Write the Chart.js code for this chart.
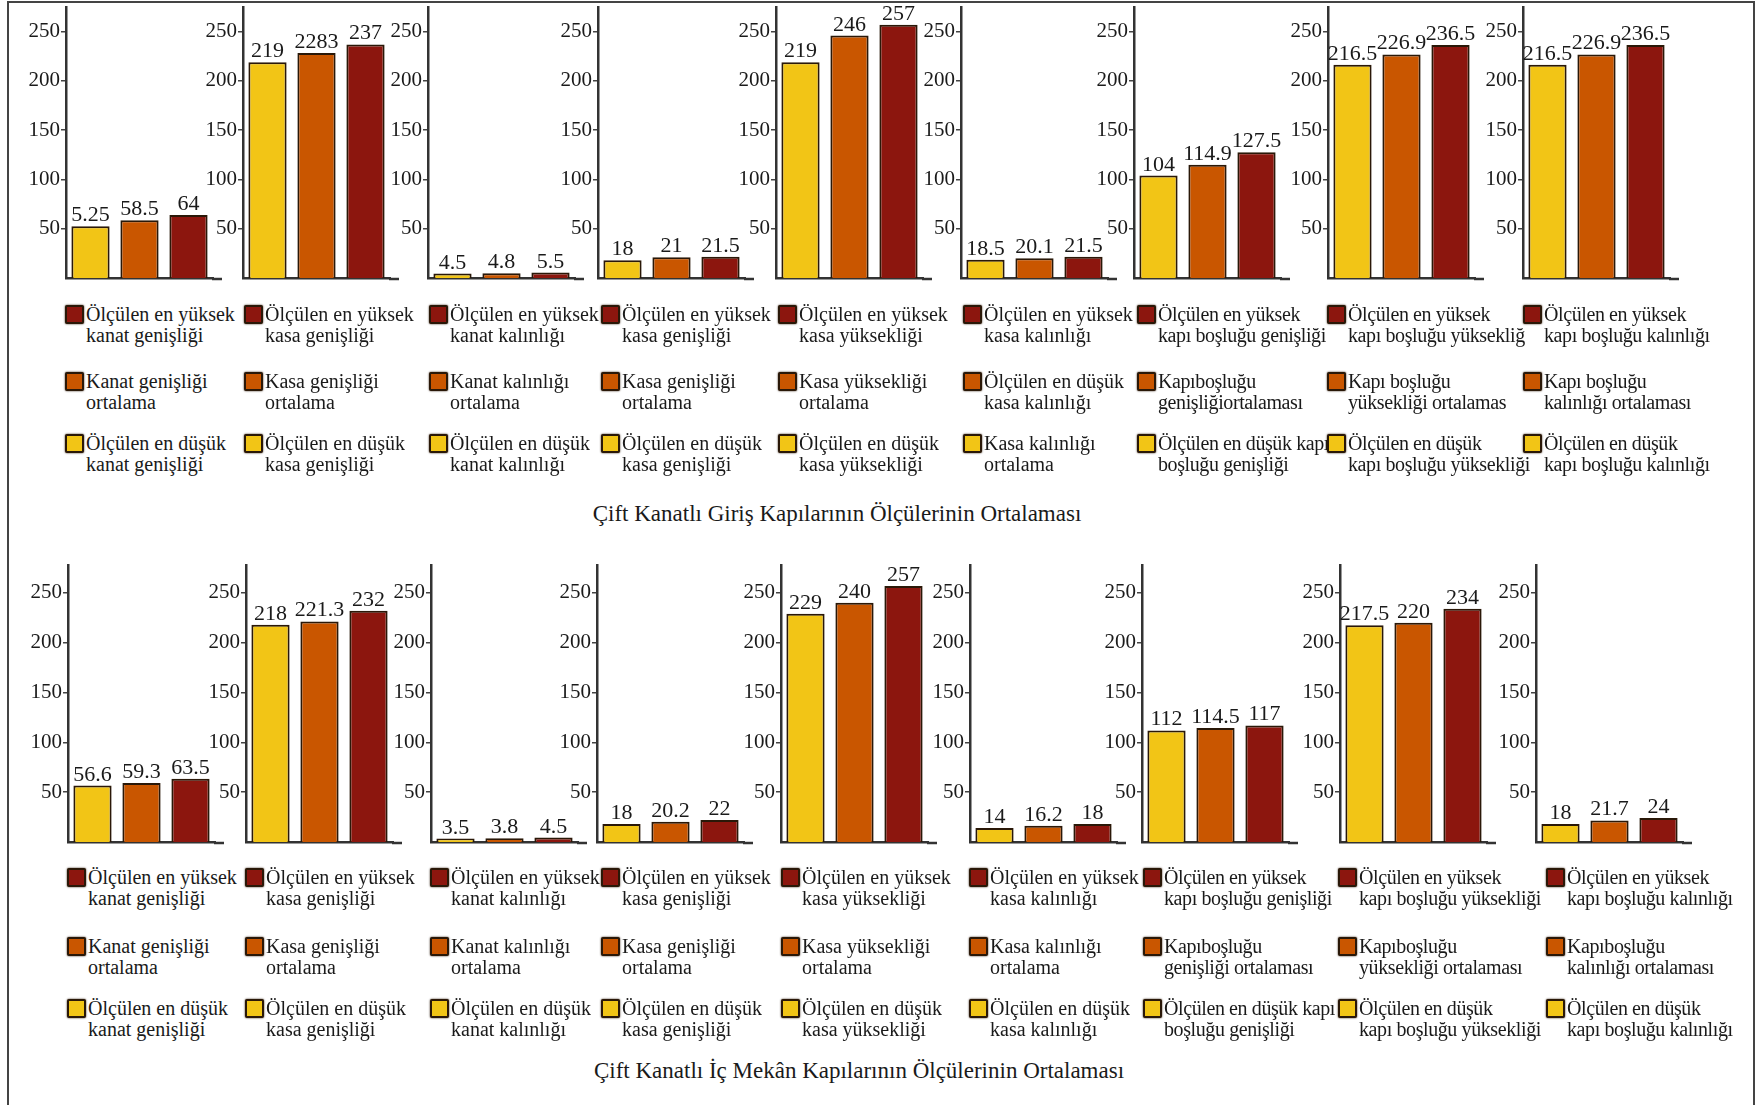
<!DOCTYPE html>
<html>
<head>
<meta charset="utf-8">
<script src="https://cdn.jsdelivr.net/npm/chart.js@4.4.1/dist/chart.umd.min.js"></script>
<style>
  html, body { margin: 0; padding: 0; background: #fff; }
  body { width: 1762px; height: 1105px; position: relative; overflow: hidden;
         font-family: "Liberation Serif", "DejaVu Serif", serif; color: #1a1a1a; }
  .frame { position: absolute; left: 7px; top: 1px; width: 1748px; height: 1115px;
           border: 2px solid #444; box-sizing: border-box; }
  canvas { position: absolute; }
  .leg { position: absolute; font-size: 20px; line-height: 21px; white-space: nowrap; }
  .leg.tight { letter-spacing: -0.4px; }
  .sw { position: absolute; width: 15px; height: 15px; border: 2px solid #2a1808;
        border-radius: 2px; box-shadow: 0 0 2px #2a1808; }
  .cap { position: absolute; font-size: 23px; white-space: nowrap; transform: translate(-50%, -50%); }
</style>
</head>
<body>
<div class="frame"></div>
<script>
/* ---------- data ---------- */
const seriesNames = ['Ölçülen en düşük', 'Ortalama', 'Ölçülen en yüksek'];
const yTicks = [50, 100, 150, 200, 250];

// Çift kanatlı giriş kapıları (düşük, ortalama, yüksek)
const girisValues = [
  [52.5, 58.5, 64],
  [219, 228.3, 237],
  [4.5, 4.8, 5.5],
  [18, 21, 21.5],
  [219, 246, 257],
  [18.5, 20.1, 21.5],
  [104, 114.9, 127.5],
  [216.5, 226.9, 236.5],
  [216.5, 226.9, 236.5]
];
const girisLabels = [
  ['5.25', '58.5', '64'],
  ['219', '2283', '237'],
  ['4.5', '4.8', '5.5'],
  ['18', '21', '21.5'],
  ['219', '246', '257'],
  ['18.5', '20.1', '21.5'],
  ['104', '114.9', '127.5'],
  ['216.5', '226.9', '236.5'],
  ['216.5', '226.9', '236.5']
];

// Çift kanatlı iç mekân kapıları
const icValues = [
  [56.6, 59.3, 63.5],
  [218, 221.3, 232],
  [3.5, 3.8, 4.5],
  [18, 20.2, 22],
  [229, 240, 257],
  [14, 16.2, 18],
  [112, 114.5, 117],
  [217.5, 220, 234],
  [18, 21.7, 24]
];
const icLabels = [
  ['56.6', '59.3', '63.5'],
  ['218', '221.3', '232'],
  ['3.5', '3.8', '4.5'],
  ['18', '20.2', '22'],
  ['229', '240', '257'],
  ['14', '16.2', '18'],
  ['112', '114.5', '117'],
  ['217.5', '220', '234'],
  ['18', '21.7', '24']
];

// legend texts: [yüksek, ortalama, düşük]
const girisLegend = [
  ['Ölçülen en yüksek\nkanat genişliği', 'Kanat genişliği\nortalama', 'Ölçülen en düşük\nkanat genişliği'],
  ['Ölçülen en yüksek\nkasa genişliği', 'Kasa genişliği\nortalama', 'Ölçülen en düşük\nkasa genişliği'],
  ['Ölçülen en yüksek\nkanat kalınlığı', 'Kanat kalınlığı\nortalama', 'Ölçülen en düşük\nkanat kalınlığı'],
  ['Ölçülen en yüksek\nkasa genişliği', 'Kasa genişliği\nortalama', 'Ölçülen en düşük\nkasa genişliği'],
  ['Ölçülen en yüksek\nkasa yüksekliği', 'Kasa yüksekliği\nortalama', 'Ölçülen en düşük\nkasa yüksekliği'],
  ['Ölçülen en yüksek\nkasa kalınlığı', 'Ölçülen en düşük\nkasa kalınlığı', 'Kasa kalınlığı\nortalama'],
  ['Ölçülen en yüksek\nkapı boşluğu genişliği', 'Kapıboşluğu\ngenişliğiortalaması', 'Ölçülen en düşük kapı\nboşluğu genişliği'],
  ['Ölçülen en yüksek\nkapı boşluğu yüksekliğ', 'Kapı boşluğu\nyüksekliği ortalamas', 'Ölçülen en düşük\nkapı boşluğu yüksekliği'],
  ['Ölçülen en yüksek\nkapı boşluğu kalınlığı', 'Kapı boşluğu\nkalınlığı ortalaması', 'Ölçülen en düşük\nkapı boşluğu kalınlığı']
];
const icLegend = [
  ['Ölçülen en yüksek\nkanat genişliği', 'Kanat genişliği\nortalama', 'Ölçülen en düşük\nkanat genişliği'],
  ['Ölçülen en yüksek\nkasa genişliği', 'Kasa genişliği\nortalama', 'Ölçülen en düşük\nkasa genişliği'],
  ['Ölçülen en yüksek\nkanat kalınlığı', 'Kanat kalınlığı\nortalama', 'Ölçülen en düşük\nkanat kalınlığı'],
  ['Ölçülen en yüksek\nkasa genişliği', 'Kasa genişliği\nortalama', 'Ölçülen en düşük\nkasa genişliği'],
  ['Ölçülen en yüksek\nkasa yüksekliği', 'Kasa yüksekliği\nortalama', 'Ölçülen en düşük\nkasa yüksekliği'],
  ['Ölçülen en yüksek\nkasa kalınlığı', 'Kasa kalınlığı\nortalama', 'Ölçülen en düşük\nkasa kalınlığı'],
  ['Ölçülen en yüksek\nkapı boşluğu genişliği', 'Kapıboşluğu\ngenişliği ortalaması', 'Ölçülen en düşük kapı\nboşluğu genişliği'],
  ['Ölçülen en yüksek\nkapı boşluğu yüksekliği', 'Kapıboşluğu\nyüksekliği ortalaması', 'Ölçülen en düşük\nkapı boşluğu yüksekliği'],
  ['Ölçülen en yüksek\nkapı boşluğu kalınlığı', 'Kapıboşluğu\nkalınlığı ortalaması', 'Ölçülen en düşük\nkapı boşluğu kalınlığı']
];

const girisTitle = 'Çift Kanatlı Giriş Kapılarının Ölçülerinin Ortalaması';
const icTitle = 'Çift Kanatlı İç Mekân Kapılarının Ölçülerinin Ortalaması';

/* ---------- styling / layout ---------- */
const FONT = '"Liberation Serif", "DejaVu Serif", serif';
const barColors = ['#f2c516', '#c95600', '#8c160e'];
const legendColors = ['#8c160e', '#c95600', '#f2c516'];
const EDGE = '#2a1808';
const AXIS = '#333';
const YW = 46;

const rows = [
  { values: girisValues, labels: girisLabels, legend: girisLegend, title: girisTitle,
    axisX: [66, 243, 428, 598, 776, 961, 1134, 1328, 1523],
    legX: [65, 244, 429, 601, 778, 963, 1137, 1327, 1523],
    top: 0, height: 290, padTop: 7, padBottom: 12, yMax: 275,
    legY: [305, 372, 434], capX: 837, capY: 514 },
  { values: icValues, labels: icLabels, legend: icLegend, title: icTitle,
    axisX: [68, 246, 431, 597, 781, 970, 1142, 1340, 1536],
    legX: [67, 245, 430, 601, 781, 969, 1143, 1338, 1546],
    top: 540, height: 320, padTop: 25, padBottom: 18, yMax: 278,
    legY: [868, 937, 999], capX: 859, capY: 1071 }
];

function labelPlugin(texts) {
  return {
    id: 'valueLabels',
    afterDatasetsDraw(chart) {
      const ctx = chart.ctx;
      const meta = chart.getDatasetMeta(0);
      ctx.save();
      ctx.font = '22px ' + FONT;
      ctx.fillStyle = '#1a1a1a';
      ctx.textAlign = 'center';
      ctx.textBaseline = 'alphabetic';
      meta.data.forEach((bar, i) => ctx.fillText(texts[i], bar.x, bar.y - 5));
      ctx.restore();
    }
  };
}

// baseline runs a little past the last bar
const baseExt = {
  id: 'baseExt',
  afterDraw(chart) {
    const { ctx, chartArea: a } = chart;
    ctx.save();
    ctx.strokeStyle = AXIS;
    ctx.lineWidth = 2.5;
    ctx.beginPath();
    ctx.moveTo(a.right - 1, a.bottom + 1);
    ctx.lineTo(a.right + 9, a.bottom + 1);
    ctx.stroke();
    ctx.restore();
  }
};

function makeChart(canvas, row, values, texts) {
  return new Chart(canvas, {
    type: 'bar',
    data: {
      labels: seriesNames,
      datasets: [{
        data: values,
        backgroundColor: barColors,
        borderColor: EDGE,
        borderWidth: 2,
        barPercentage: 0.78,
        categoryPercentage: 1
      }]
    },
    options: {
      responsive: false,
      animation: false,
      layout: { padding: { top: row.padTop, bottom: row.padBottom, right: 12, left: 0 } },
      plugins: { legend: { display: false }, tooltip: { enabled: false } },
      scales: {
        x: {
          grid: { display: false },
          ticks: { display: false },
          border: { color: AXIS, width: 2.5 },
          afterFit: s => { s.height = 0; }
        },
        y: {
          min: 0,
          max: row.yMax,
          afterBuildTicks: s => { s.ticks = yTicks.map(v => ({ value: v })); },
          afterFit: s => { s.width = YW; s.paddingTop = 0; s.paddingBottom = 0; },
          grid: { drawOnChartArea: false, drawTicks: true, tickLength: 5, color: '#444', lineWidth: 1.5 },
          border: { color: AXIS, width: 2.5 },
          ticks: { font: { family: FONT, size: 21 }, color: '#1a1a1a', padding: 1 }
        }
      }
    },
    plugins: [labelPlugin(texts), baseExt]
  });
}

rows.forEach(row => {
  row.values.forEach((vals, i) => {
    const c = document.createElement('canvas');
    c.width = YW + 147 + 12;
    c.height = row.height;
    c.style.left = (row.axisX[i] - YW) + 'px';
    c.style.top = row.top + 'px';
    document.body.appendChild(c);
    makeChart(c, row, vals, row.labels[i]);

    // legend column
    row.legend[i].forEach((txt, k) => {
      const sw = document.createElement('div');
      sw.className = 'sw';
      sw.style.left = row.legX[i] + 'px';
      sw.style.top = row.legY[k] + 'px';
      sw.style.background = legendColors[k];
      document.body.appendChild(sw);
      const t = document.createElement('div');
      t.className = i >= 6 ? 'leg tight' : 'leg';
      t.style.left = (row.legX[i] + 21) + 'px';
      t.style.top = (row.legY[k] - 1) + 'px';
      t.innerHTML = txt.replace('\n', '<br>');
      document.body.appendChild(t);
    });
  });

  const cap = document.createElement('div');
  cap.className = 'cap';
  cap.style.left = row.capX + 'px';
  cap.style.top = row.capY + 'px';
  cap.textContent = row.title;
  document.body.appendChild(cap);
});
</script>
</body>
</html>
